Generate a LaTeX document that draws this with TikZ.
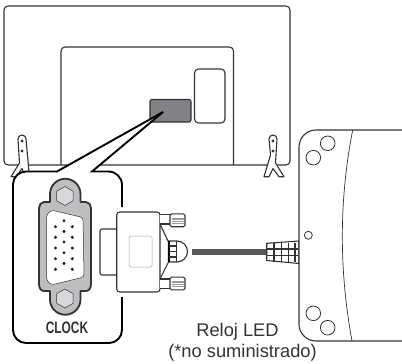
\documentclass[tikz,border=0pt]{standalone}
\usepackage{fontspec}
\setmainfont{Liberation Sans}
\definecolor{ink}{HTML}{333335}
\definecolor{portgray}{HTML}{808285}
\definecolor{shell}{HTML}{BCBEC0}
\definecolor{cable}{HTML}{58595B}
\tikzset{
  x=1pt,y=-1pt,
  tvline/.style={draw=ink,line width=1.1pt,line join=round},
  callout/.style={draw=black,line width=1.9pt,line join=miter},
  thin line/.style={draw=ink,line width=0.7pt},
  pin/.style={fill=black!85},
  plugline/.style={draw=ink,line width=1.1pt,fill=white,line join=round},
  hole/.style={draw=ink,line width=0.8pt,fill=white},
  lbl/.style={inner sep=0pt,text=ink,font=\fontsize{18.3}{20}\selectfont},
}
\begin{document}
\begin{tikzpicture}
\useasboundingbox (0,0) rectangle (402,364);
% TV
\draw[tvline,rounded corners=4] (4,6) rectangle (290,165);
\draw[tvline,rounded corners=4] (61,165) -- (61,47) -- (233.5,47) -- (233.5,165);
\draw[tvline,fill=portgray,rounded corners=2] (150,99.5) rectangle (191,122);
\draw[tvline,rounded corners=4] (194.5,69) rectangle (225,123);
% stands
\draw[plugline] (269,139) arc[start angle=180,end angle=360,radius=4] -- (275.5,163) -- (284,176.7) -- (279,176.7) -- (273,168.5) -- (269,176.7) -- (264,176.7) -- (270.5,155) -- cycle;
\draw[plugline] (18,139) arc[start angle=180,end angle=360,radius=4] -- (29,172) -- (31,178) -- (26,178) -- (22,168.5) -- (16,176.7) -- (11,176.7) -- (19.5,163) -- cycle;
\foreach \px/\py in {22/141,22/151,273/141,273/151} \fill[ink] (\px,\py) circle[radius=1.7];
% callout
\path[fill=white] (163,112) -- (57,171.5) -- (26,171.5) arc[start angle=-90,end angle=-180,radius=13] -- (13,330) arc[start angle=180,end angle=90,radius=13] -- (109,343) arc[start angle=90,end angle=0,radius=13] -- (122,185) arc[start angle=0,end angle=-90,radius=13.5] -- (92,171.5) -- cycle;
\draw[callout] (163,112) -- (57,171.5) -- (26,171.5) arc[start angle=-90,end angle=-180,radius=13] -- (13,330) arc[start angle=180,end angle=90,radius=13] -- (109,343) arc[start angle=90,end angle=0,radius=13] -- (122,297);
\draw[callout] (122,207) -- (122,185) arc[start angle=0,end angle=-90,radius=13.5] -- (92,171.5) -- (163,112);
% VGA socket
\draw[draw=ink,line width=1.8pt,fill=shell,line join=round]
  (50,194) arc[start angle=180,end angle=360,radius=15.25] -- (80.5,202) -- (86,202)
  .. controls (89,202) and (91,205) .. (91,208) -- (91,284)
  .. controls (91,288) and (89,291) .. (86,291) -- (80.5,291) -- (80.5,299.5)
  arc[start angle=0,end angle=180,radius=15.25] -- (50,291) -- (44,291)
  .. controls (41,291) and (39,288) .. (39,284) -- (39,208)
  .. controls (39,205) and (41,202) .. (44,202) -- (50,202) -- cycle;
\draw[draw=ink,line width=0.5pt,fill=white,rounded corners=3] (51,210) -- (83,217.5) -- (84,277) -- (51,285) -- (46.5,280) -- (46.5,215) -- cycle;
\foreach \py in {226.7,237.3,248,258.7,269.3} {\fill[pin] (55.5,\py) circle[radius=1.7]; \fill[pin] (72.3,\py) circle[radius=1.7];}
\foreach \py in {220.7,231.3,242,252.7,263.3} \fill[pin] (64,\py) circle[radius=1.7];
\foreach \cy in {196,298.5} \draw[draw=ink,line width=0.5pt,fill=shell!60!white] (64.9,\cy-9.5) -- (73.2,\cy-4.7) -- (73.2,\cy+4.7) -- (64.9,\cy+9.5) -- (56.6,\cy+4.7) -- (56.6,\cy-4.7) -- cycle;
% plug
\draw[plugline,rounded corners=2] (116.7,229) -- (100,229) -- (100,275) -- (116.7,275);
\draw[plugline,rounded corners=3] (116.7,212) rectangle (160,292);
\draw[draw=black!35,line width=0.5pt,rounded corners=1.5] (129,236) rectangle (152,267);
% necks, screws
\draw[plugline] (160,214.5) -- (171,214.5) -- (171,224) -- (160,224);
\draw[plugline] (160,279) -- (171,279) -- (171,288.5) -- (160,288.5);
\foreach \cy in {220.3,283.5} {
  \draw[plugline,rounded corners=1.5] (170,\cy-6.4) rectangle (185,\cy+6.4);
  \foreach \dy in {-2.6,-0.9,0.9,2.6} \draw[draw=black!40,line width=0.4pt] (172,\cy+\dy) -- (184,\cy+\dy);
}
% plug head
\draw[plugline] (160,224) -- (168.5,242);
\draw[plugline] (160,279) -- (168.5,262);
\draw[plugline] (168.5,241) -- (177,241) arc[start angle=-90,end angle=90,radius=10.5] -- (168.5,262) -- cycle;
\draw[draw=ink,line width=1pt] (176,241) -- (176,262);
\draw[draw=black,line width=1.6pt] (168.8,241) -- (168.8,262);
\foreach \ly in {246,251.5,257} \draw[draw=ink,line width=1.3pt] (168.5,\ly) -- (176,\ly);
% cable
\fill[cable] (192,249.3) rectangle (268,255.3);
% strain relief
\draw[plugline] (266.7,243.3) -- (299,241) -- (299,263.5) -- (266.7,260.5) -- cycle;
\foreach \lx in {274,281.7,288.5,295} \draw[draw=ink,line width=1.1pt] (\lx,242.5) -- (\lx,262);
\foreach \ly in {249,255.5} \draw[draw=ink,line width=1.1pt] (267,\ly) -- (298,\ly);
% LED clock
\draw[draw=ink,line width=1.1pt,fill=white,line join=round] (402,130) -- (316,130) arc[start angle=-90,end angle=-180,radius=17] -- (299,324) arc[start angle=180,end angle=90,radius=17] -- (402,341);
\draw[thin line] (352.7,130) .. controls (339,200) and (339,270) .. (352,341);
\foreach \cx/\cy in {327.7/143.3,313.3/157.7,313.3/313.3,327.7/327.7} \draw[hole] (\cx,\cy) circle[radius=7.3];
\draw[hole] (308.3,235.3) circle[radius=4];
% labels
\node[lbl,anchor=base] (led) at (237.5,336.7) {Reloj LED};
\node[lbl,anchor=base] (nosum) at (242.5,357.7) {(*no suministrado)};
\node[inner sep=0pt,anchor=base,text=ink,xscale=0.72,font=\fontsize{16.6}{18}\selectfont\bfseries] (clk) at (67,333) {CLOCK};
\end{tikzpicture}
\end{document}
